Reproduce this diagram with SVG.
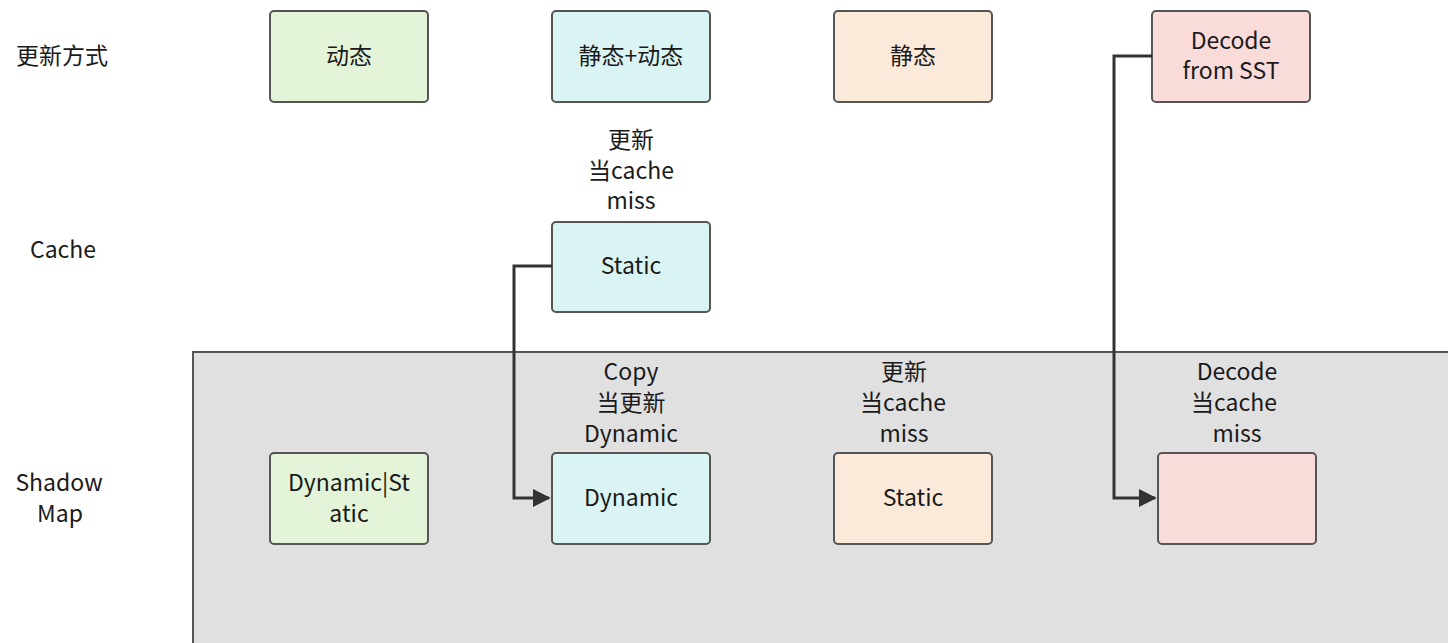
<svg xmlns="http://www.w3.org/2000/svg" width="1448" height="643" viewBox="0 0 1448 643">
<defs>
<style>
text{font-family:"Noto Sans CJK SC","Noto Sans",sans-serif;font-size:23px;fill:#1a1a1a;text-anchor:middle}
.n{stroke:#555;stroke-width:2}
.g{fill:#e3f4d8}.c{fill:#daf3f3}.o{fill:#fbe9da}.p{fill:#f9dbda}
.e{fill:none;stroke:#333;stroke-width:3}
</style>
<marker id="ah" viewBox="0 0 10 10" refX="9" refY="5" markerWidth="6" markerHeight="6" orient="auto" markerUnits="strokeWidth"><path d="M0,0L10,5L0,10z" fill="#333"/></marker>
</defs>
<rect width="1448" height="643" fill="#fff"/>
<g id="shadow-area"><rect x="193" y="352" width="1262" height="300" fill="#e0e0e0" stroke="#555" stroke-width="2"/></g>
<g id="row-labels">
<text x="62" y="64">更新方式</text>
<text x="63" y="258">Cache</text>
<text x="59" y="491">Shadow</text>
<text x="60" y="522">Map</text>
</g>
<g id="n1"><rect class="n g" x="270" y="11" width="158" height="91" rx="4"/><text x="349" y="64">动态</text></g>
<g id="n2"><rect class="n c" x="552" y="11" width="158" height="91" rx="4"/><text x="631" y="64">静态+动态</text></g>
<g id="n3"><rect class="n o" x="834" y="11" width="158" height="91" rx="4"/><text x="913" y="64">静态</text></g>
<g id="n4"><rect class="n p" x="1152" y="11" width="158" height="91" rx="4"/><text x="1231" y="49">Decode</text><text x="1231" y="79">from SST</text></g>
<g id="n5"><text x="631" y="148">更新</text><text x="631" y="179">当cache</text><text x="631" y="209">miss</text><rect class="n c" x="552" y="222" width="158" height="90" rx="4"/><text x="631" y="274">Static</text></g>
<g id="n6"><rect class="n g" x="270" y="453" width="158" height="91" rx="4"/><text x="349" y="491">Dynamic|St</text><text x="349" y="522">atic</text></g>
<g id="n7"><text x="631" y="380">Copy</text><text x="631" y="411">当更新</text><text x="631" y="442">Dynamic</text><rect class="n c" x="552" y="453" width="158" height="91" rx="4"/><text x="631" y="506">Dynamic</text></g>
<g id="n8"><text x="904" y="380">更新</text><text x="903" y="411">当cache</text><text x="904" y="442">miss</text><rect class="n o" x="834" y="453" width="158" height="91" rx="4"/><text x="913" y="506">Static</text></g>
<g id="n9"><text x="1237" y="380">Decode</text><text x="1234" y="411">当cache</text><text x="1237" y="442">miss</text><rect class="n p" x="1158" y="453" width="158" height="91" rx="4"/></g>
<g id="connectors">
<path class="e" d="M552,266H514V498H549" marker-end="url(#ah)"/>
<path class="e" d="M1152,56H1114V498H1155" marker-end="url(#ah)"/>
</g>
</svg>
